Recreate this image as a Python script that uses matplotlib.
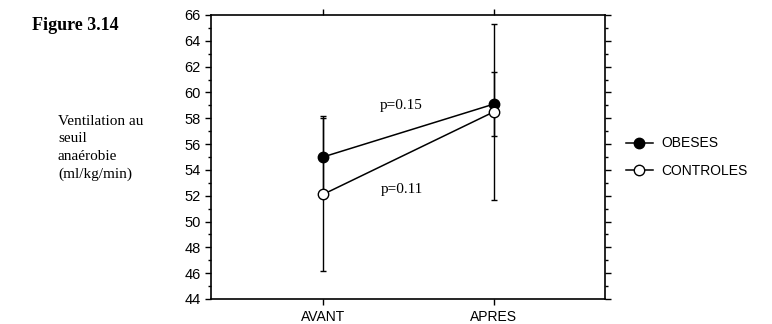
import matplotlib.pyplot as plt
from matplotlib.lines import Line2D
from matplotlib.ticker import MultipleLocator

periods = ['AVANT', 'APRES']
obeses = [55.0, 59.1]
obeses_err = [3.2, 2.5]
controles = [52.1, 58.5]
controles_err = [5.9, 6.8]

fig = plt.figure(figsize=(7.72, 3.24), dpi=100)
ax = fig.add_axes([211 / 772, 25 / 324, 394 / 772, 284 / 324])

x = list(range(len(periods)))
ax.errorbar(x, obeses, yerr=obeses_err, color='black', lw=1.1, elinewidth=1,
            capsize=2, capthick=1, marker='o', ms=7.5, mfc='black', mec='black',
            zorder=3)
ax.errorbar(x, controles, yerr=controles_err, color='black', lw=1.1, elinewidth=1,
            capsize=2, capthick=1, marker='o', ms=7.5, mfc='white', mec='black',
            zorder=4)

ax.set_xlim(-0.655, 1.65)
ax.set_ylim(44, 66)
ax.set_xticks(x)
ax.set_xticklabels(periods, fontsize=10, family='Liberation Sans')
ax.yaxis.set_major_locator(MultipleLocator(2))
ax.yaxis.set_minor_locator(MultipleLocator(1))
ax.tick_params(axis='y', which='both', right=True, direction='out',
               labelsize=10.5, width=1)
ax.tick_params(axis='y', which='major', length=4)
ax.tick_params(axis='y', which='minor', length=2.5)
ax.tick_params(axis='x', top=True, direction='out', length=4, width=1, pad=4)
for lab in ax.get_yticklabels():
    lab.set_family('Liberation Sans')
for s in ax.spines.values():
    s.set_linewidth(1.2)

ax.text(0.46, 59.0, 'p=0.15', fontsize=11, family='Liberation Serif',
        ha='center', va='center')
ax.text(0.46, 52.5, 'p=0.11', fontsize=11, family='Liberation Serif',
        ha='center', va='center')

fig.text(32 / 772, 1 - 25 / 324, 'Figure 3.14', fontsize=13, weight='bold',
         family='Liberation Serif', va='center')
fig.text(58 / 772, 1 - 148 / 324,
         'Ventilation au\nseuil\nanaérobie\n(ml/kg/min)',
         fontsize=11, family='Liberation Serif', va='center', ha='left',
         linespacing=1.45)

handles = [
    Line2D([], [], color='black', lw=1.1, marker='o', ms=7.5, mfc='black', mec='black'),
    Line2D([], [], color='black', lw=1.1, marker='o', ms=7.5, mfc='white', mec='black'),
]
fig.legend(handles, ['OBESES', 'CONTROLES'], loc='center left',
           bbox_to_anchor=(613 / 772, 1 - 157 / 324),
           frameon=False, prop={'family': 'Liberation Sans', 'size': 10},
           handlelength=2.0, handletextpad=0.6, labelspacing=0.95)

fig.savefig('out.png', dpi=100)
